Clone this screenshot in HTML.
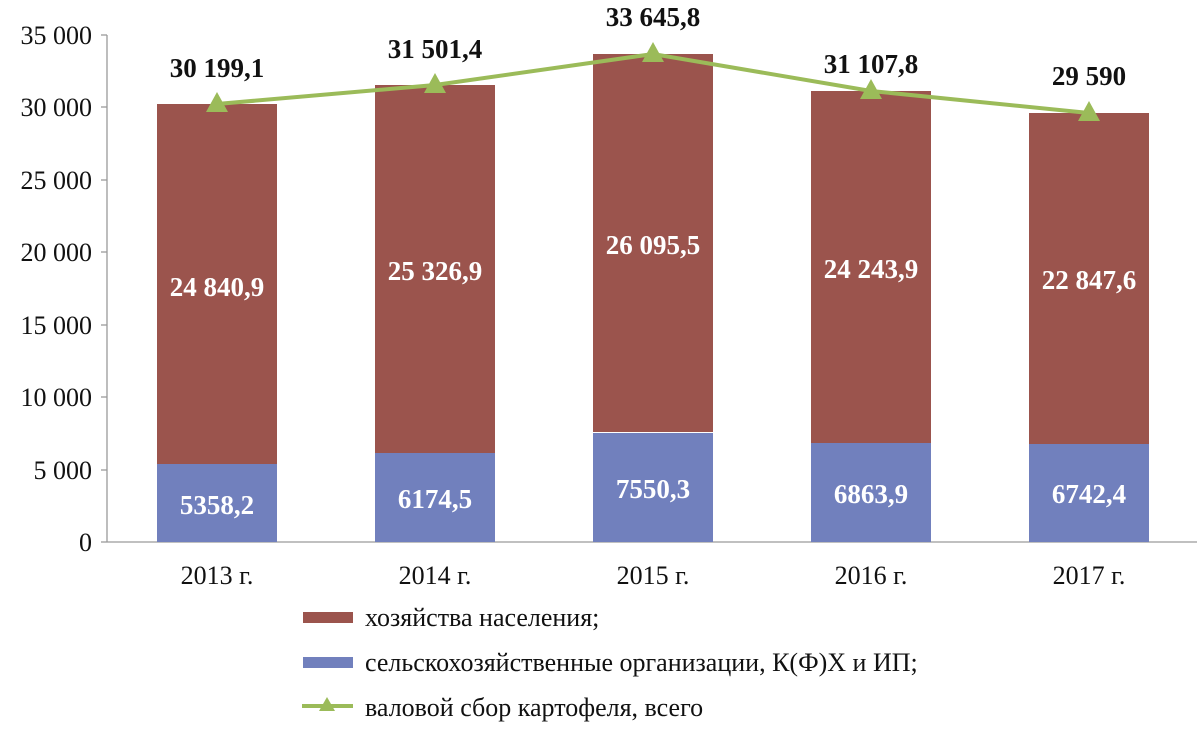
<!DOCTYPE html>
<html><head><meta charset="utf-8"><style>
body{margin:0;background:#fff}
svg text{font-family:"Liberation Serif",serif}
</style></head><body>
<svg width="1200" height="734" viewBox="0 0 1200 734" xmlns="http://www.w3.org/2000/svg">
<g stroke="#9a9a9a" stroke-width="1.3">
<line x1="107" y1="35" x2="107" y2="542"/>
<line x1="107" y1="542" x2="1197" y2="542"/>
<line x1="101" y1="35" x2="107" y2="35"/><line x1="101" y1="107" x2="107" y2="107"/>
<line x1="101" y1="180" x2="107" y2="180"/><line x1="101" y1="252" x2="107" y2="252"/>
<line x1="101" y1="325" x2="107" y2="325"/><line x1="101" y1="397" x2="107" y2="397"/>
<line x1="101" y1="470" x2="107" y2="470"/><line x1="101" y1="542" x2="107" y2="542"/>
</g>
<g font-size="26" text-anchor="end" fill="#111">
<text x="92" y="44">35 000</text><text x="92" y="116">30 000</text>
<text x="92" y="189">25 000</text><text x="92" y="261">20 000</text>
<text x="92" y="334">15 000</text><text x="92" y="406">10 000</text>
<text x="92" y="479">5 000</text><text x="92" y="551">0</text>
</g>
<g fill="#9b544d">
<rect x="157" y="104" width="120" height="360"/>
<rect x="375" y="85" width="120" height="368"/>
<rect x="593" y="54" width="120" height="378"/>
<rect x="811" y="91" width="120" height="352"/>
<rect x="1029" y="113" width="120" height="331"/>
</g>
<g fill="#7180bd">
<rect x="157" y="464" width="120" height="78"/>
<rect x="375" y="453" width="120" height="89"/>
<rect x="593" y="433" width="120" height="109"/>
<rect x="811" y="443" width="120" height="99"/>
<rect x="1029" y="444" width="120" height="98"/>
</g>
<polyline points="217,104 435,85 653,54 871,91 1089,113" fill="none" stroke="#9bbb59" stroke-width="4"/>
<g fill="#9bbb59">
<polygon points="217,92 206,112 228,112"/><polygon points="435,73 424,93 446,93"/>
<polygon points="653,42 642,62 664,62"/><polygon points="871,79 860,99 882,99"/>
<polygon points="1089,101 1078,121 1100,121"/>
</g>
<g font-size="27" font-weight="bold" text-anchor="middle" fill="#111">
<text x="217" y="77">30 199,1</text><text x="435" y="58">31 501,4</text>
<text x="653" y="26">33 645,8</text><text x="871" y="73">31 107,8</text>
<text x="1089" y="85">29 590</text>
</g>
<g font-size="27" font-weight="bold" text-anchor="middle" fill="#fff">
<text x="217" y="296">24 840,9</text><text x="435" y="280">25 326,9</text>
<text x="653" y="254">26 095,5</text><text x="871" y="278">24 243,9</text>
<text x="1089" y="289">22 847,6</text>
<text x="217" y="514">5358,2</text><text x="435" y="508">6174,5</text>
<text x="653" y="498">7550,3</text><text x="871" y="503">6863,9</text>
<text x="1089" y="503">6742,4</text>
</g>
<g font-size="26" text-anchor="middle" fill="#111">
<text x="217" y="584">2013 г.</text><text x="435" y="584">2014 г.</text>
<text x="653" y="584">2015 г.</text><text x="871" y="584">2016 г.</text>
<text x="1089" y="584">2017 г.</text>
</g>
<rect x="303" y="612" width="50" height="11" fill="#9b544d"/>
<rect x="303" y="657" width="50" height="11" fill="#7180bd"/>
<line x1="302" y1="706" x2="353" y2="706" stroke="#9bbb59" stroke-width="4"/>
<polygon points="327,697 319,711 335,711" fill="#9bbb59"/>
<g font-size="26" fill="#111">
<text x="365" y="626">хозяйства населения;</text>
<text x="365" y="671">сельскохозяйственные организации, К(Ф)Х и ИП;</text>
<text x="365" y="716">валовой сбор картофеля, всего</text>
</g>
</svg>
</body></html>
